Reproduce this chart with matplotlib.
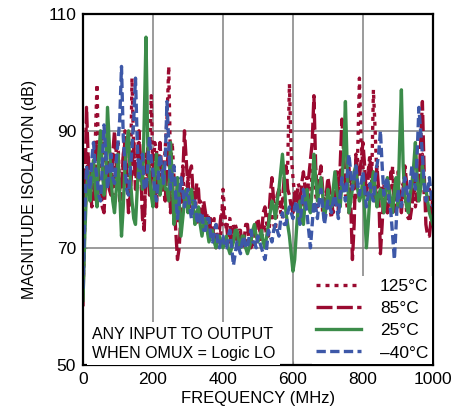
import matplotlib.pyplot as plt

# frequency grid (MHz), one reading every 5 MHz
freq = list(range(0, 1001, 5))

# isolation (dB), one row = 50 MHz
t125 = [62, 74, 82, 86, 80, 84, 79, 88, 98, 83,
        84, 89, 78, 86, 80, 83, 86, 79, 82, 87,
        88, 80, 78, 85, 90, 81, 84, 79, 99, 86,
        84, 80, 88, 83, 76, 74, 86, 81, 84, 96,
        82, 88, 87, 79, 80, 85, 83, 87, 92, 101,
        84, 88, 82, 78, 76, 74, 80, 84, 77, 79,
        82, 77, 76, 79, 80, 75, 74, 78, 77, 73,
        73, 76, 75, 72, 72, 75, 74, 71, 71, 73,
        80, 76, 73, 75, 75, 71, 71, 74, 73, 71,
        70, 72, 72, 70, 71, 73, 73, 70, 70, 72,
        72, 74, 71, 73, 74, 72, 72, 75, 76, 74,
        73, 77, 78, 76, 75, 79, 80, 84, 98, 86,
        82, 79, 78, 81, 80, 77, 76, 80, 82, 79,
        78, 83, 84, 79, 77, 82, 81, 76, 76, 79,
        80, 77, 75, 79, 82, 80, 78, 83, 84, 81,
        79, 77, 76, 80, 82, 79, 78, 86, 99, 88,
        84, 80, 80, 83, 86, 81, 97, 90, 82, 79,
        78, 81, 81, 77, 76, 79, 80, 84, 77, 80,
        83, 79, 78, 81, 80, 76, 75, 78, 79, 82,
        77, 80, 82, 85, 86, 79, 78, 76, 80, 77,
        76]
t85 = [60, 78, 94, 85, 82, 77, 78, 84, 88, 81,
       80, 77, 76, 82, 85, 80, 79, 86, 90, 84,
       83, 78, 80, 86, 88, 82, 76, 79, 84, 88,
       80, 85, 90, 84, 75, 73, 83, 87, 79, 82,
       86, 81, 77, 84, 88, 83, 80, 78, 84, 87,
       76, 81, 78, 73, 68, 70, 76, 82, 90, 85,
       80, 83, 84, 79, 77, 81, 80, 75, 74, 78,
       76, 73, 72, 75, 74, 71, 70, 73, 73, 76,
       77, 74, 74, 71, 71, 73, 74, 72, 70, 73,
       73, 70, 71, 74, 74, 71, 70, 72, 72, 74,
       75, 73, 72, 76, 77, 74, 74, 79, 82, 78,
       76, 79, 80, 77, 78, 82, 84, 80, 79, 77,
       76, 79, 80, 78, 77, 81, 83, 80, 78, 82,
       85, 88, 96, 84, 79, 82, 84, 80, 77, 79,
       82, 80, 78, 76, 80, 83, 76, 84, 92, 86,
       80, 82, 84, 78, 68, 74, 86, 83, 82, 85,
       88, 84, 79, 82, 85, 83, 81, 78, 84, 80,
       69, 74, 80, 78, 76, 79, 83, 81, 78, 76,
       81, 79, 76, 80, 84, 81, 79, 75, 77, 80,
       82, 78, 80, 88, 95, 83, 74, 72, 72, 75,
       79]
t25 = [61, 72, 80, 83, 78, 82, 85, 80, 77, 86,
       90, 84, 79, 82, 94, 88, 82, 78, 76, 80,
       86, 79, 72, 77, 84, 88, 90, 82, 78, 75,
       74, 80, 85, 83, 80, 92, 106, 88, 82, 79,
       77, 82, 86, 83, 79, 81, 84, 80, 80, 78,
       88, 82, 74, 77, 82, 78, 72, 75, 78, 80,
       76, 79, 80, 77, 74, 76, 77, 74, 72, 74,
       75, 73, 71, 72, 73, 71, 70, 72, 72, 71,
       70, 71, 72, 70, 69, 70, 71, 73, 73, 71,
       70, 72, 72, 70, 69, 70, 71, 73, 74, 72,
       71, 72, 73, 71, 70, 72, 74, 76, 78, 77,
       75, 78, 80, 83, 86, 82, 76, 74, 72, 69,
       66, 68, 73, 77, 78, 75, 74, 78, 80, 77,
       76, 80, 86, 82, 78, 80, 82, 79, 75, 77,
       80, 78, 77, 80, 83, 80, 78, 77, 81, 86,
       95, 84, 76, 78, 80, 83, 84, 80, 78, 79,
       82, 76, 70, 74, 79, 81, 83, 80, 77, 79,
       80, 78, 76, 79, 82, 80, 78, 76, 80, 82,
       77, 88, 97, 84, 79, 77, 76, 79, 81, 84,
       88, 82, 78, 80, 84, 81, 80, 78, 76, 75,
       74]
tm40 = [63, 76, 84, 82, 80, 85, 88, 84, 82, 79,
        78, 84, 91, 86, 80, 83, 86, 82, 81, 85,
        88, 92, 101, 89, 84, 80, 79, 83, 87, 92,
        99, 88, 82, 85, 86, 80, 80, 84, 89, 85,
        83, 80, 78, 82, 86, 84, 81, 85, 95, 88,
        80, 83, 84, 79, 75, 78, 82, 80, 77, 79,
        80, 77, 75, 78, 78, 75, 74, 76, 76, 73,
        73, 75, 75, 72, 71, 73, 74, 71, 70, 72,
        72, 70, 70, 72, 73, 70, 67, 69, 71, 70,
        69, 71, 72, 70, 70, 72, 73, 71, 71, 70,
        72, 71, 70, 69, 68, 70, 73, 72, 71, 73,
        74, 73, 72, 75, 76, 74, 74, 76, 77, 76,
        75, 77, 78, 76, 74, 77, 80, 78, 76, 73,
        70, 74, 78, 77, 75, 78, 80, 77, 74, 76,
        78, 77, 76, 78, 79, 77, 75, 79, 82, 80,
        78, 82, 86, 83, 80, 82, 84, 81, 79, 81,
        83, 80, 77, 79, 81, 79, 78, 82, 84, 86,
        90, 84, 79, 81, 82, 78, 76, 72, 68, 74,
        80, 78, 77, 80, 82, 80, 78, 81, 84, 82,
        80, 86, 94, 90, 86, 81, 78, 80, 82, 79,
        77]

labels = ['125°C', '85°C', '25°C', '–40°C']

red = '#9a0a30'
green = '#3c8c4a'
blue = '#3d58a8'

plt.rcParams['font.family'] = ['Liberation Sans', 'DejaVu Sans']

fig = plt.figure(figsize=(4.69, 4.17), dpi=100)
ax = fig.add_axes([0.177, 0.125, 0.746, 0.842])

ax.plot(freq, t125, color=red, lw=2.4, ls=(0, (1.2, 1.5)), label=labels[0])
ax.plot(freq, t85, color=red, lw=2.4, ls=(0, (4.8, 1.3)), label=labels[1])
ax.plot(freq, t25, color=green, lw=2.4, ls='-', label=labels[2])
ax.plot(freq, tm40, color=blue, lw=2.4, ls=(0, (2.8, 1.3)), label=labels[3])

ax.set_xlim(0, 1000)
ax.set_ylim(50, 110)
ax.set_xticks([0, 200, 400, 600, 800, 1000])
ax.set_yticks([50, 70, 90, 110])
ax.grid(True, color='#808080', lw=1.1)
ax.set_axisbelow(True)
ax.tick_params(direction='in', length=3, labelsize=12.5, color='#808080', pad=5)
for s in ax.spines.values():
    s.set_linewidth(1.6)
    s.set_color('black')

ax.set_xlabel('FREQUENCY (MHz)', fontsize=12, labelpad=3)
ax.set_ylabel('MAGNITUDE ISOLATION (dB)', fontsize=11.5, labelpad=8)

leg = ax.legend(loc='lower right', fontsize=12.5, handlelength=2.6,
                labelspacing=0.4, handletextpad=1.1, borderaxespad=0.05,
                borderpad=0.2, frameon=True, fancybox=False)
leg.get_frame().set_facecolor('white')
leg.get_frame().set_edgecolor('none')
leg.get_frame().set_alpha(1)

ax.text(0.025, 0.012, 'ANY INPUT TO OUTPUT\nWHEN OMUX = Logic LO',
        transform=ax.transAxes, fontsize=11.5, va='bottom', ha='left',
        linespacing=1.3,
        bbox=dict(boxstyle='square,pad=0.3', facecolor='white', edgecolor='none'))

fig.savefig('out.png', dpi=100)
